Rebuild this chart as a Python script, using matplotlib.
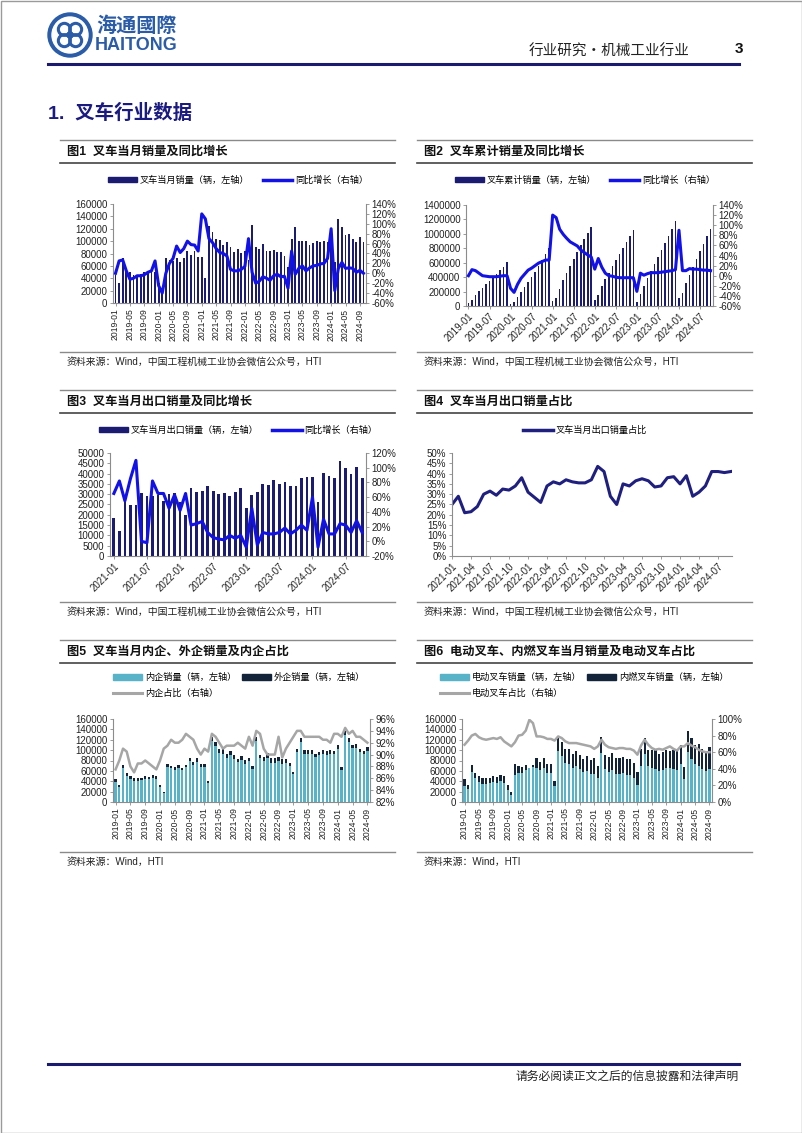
import numpy as np
import pandas as pd
import matplotlib
matplotlib.use('Agg')
import matplotlib.pyplot as plt
from matplotlib.patches import Circle, Patch, Rectangle
from matplotlib.lines import Line2D
from matplotlib.ticker import FuncFormatter

plt.rcParams['font.family'] = ['Liberation Sans', 'Noto Sans CJK SC', 'DejaVu Sans']

W, H = 802, 1133

########### data ###########
months_70 = pd.period_range('2019-01', periods=70, freq='M').strftime('%Y-%m').tolist()
months_69 = months_70[:69]
months_46 = pd.period_range('2021-01', periods=46, freq='M').strftime('%Y-%m').tolist()
months_45 = months_46[:45]

# fig1 monthly sales & yoy
sales_m = [45000, 33000, 72000, 56000, 50000, 46000, 46000, 47000, 50000, 49000, 53000, 50000,
           33000, 19000, 73000, 70000, 68000, 72000, 66000, 72000, 84000, 78000, 84000, 74000,
           74000, 41000, 125000, 115000, 103000, 102000, 93000, 98000, 91000, 83000, 88000, 81000,
           84000, 70000, 126000, 91000, 87000, 95000, 84000, 84000, 86000, 82000, 82000, 76000,
           58000, 103000, 123000, 100000, 100000, 100000, 93000, 97000, 100000, 98000, 100000, 99000,
           110000, 67000, 136000, 123000, 110000, 111000, 103000, 99000, 106000, 98000]
sales_yoy = [0, 25, 27, 5, -12, -10, -5, -5, -3, 2, 5, 25,
             -25, -40, 0, 20, 30, 55, 42, 50, 65, 58, 57, 45,
             120, 110, 70, 62, 50, 42, 40, 35, 8, 5, 5, 8,
             14, 70, 2, -20, -16, -7, -10, -14, -5, -2, -7, -6,
             -30, 45, -2, 10, 15, 5, 11, 15, 16, 19, 20, 30,
             90, -35, 10, 22, 10, 11, 10, 2, 6, 0]

# fig2 cumulative sales & yoy
sales_cum = [45000, 78000, 150000, 206000, 256000, 302000, 348000, 395000, 445000, 494000, 547000, 608000,
             33000, 52000, 125000, 195000, 263000, 335000, 401000, 473000, 557000, 635000, 719000, 800000,
             74000, 115000, 240000, 355000, 458000, 560000, 653000, 751000, 842000, 925000, 1013000, 1094000,
             84000, 154000, 280000, 371000, 458000, 553000, 637000, 721000, 807000, 889000, 971000, 1048000,
             58000, 161000, 284000, 384000, 484000, 584000, 677000, 774000, 874000, 972000, 1072000, 1174000,
             110000, 177000, 313000, 436000, 546000, 657000, 760000, 859000, 965000, 1063000]
cum_yoy = [0, 12, 10, 5, 0, -1, -2, -2, -2, -1, 0, 0,
           -25, -33, -17, -5, 3, 11, 15, 20, 25, 28, 31, 31,
           120, 115, 92, 82, 74, 67, 63, 59, 51, 46, 41, 37,
           13, 34, 17, 5, 0, -1, -3, -4, -4, -4, -4, -4,
           -31, 5, 1, 4, 6, 6, 6, 7, 8, 9, 10, 12,
           90, 10, 10, 14, 13, 13, 12, 11, 11, 10]

# fig3 monthly export & yoy
export_m = [18500, 12000, 26000, 24700, 24700, 30600, 29300, 29000, 29600, 26600, 30000, 30800,
            26000, 20000, 33000, 31000, 31500, 34000, 31500, 30000, 30500, 29000, 31000, 33000,
            23500, 29500, 31000, 35000, 34500, 37000, 35000, 36000, 34000, 34000, 38000, 38500,
            38500, 26000, 40500, 39000, 38000, 46000, 42500, 40000, 43000, 38000]
export_yoy = [65, 82, 55, 85, 110, 0, -2, 82, 65, 65, 45, 63,
              42, 65, 22, 24, 27, 12, 5, 3, 2, 8, 4, 8,
              -8, 45, -5, 12, 10, 10, 12, 18, 10, 15, 22, 15,
              60, -8, 30, 10, 10, 24, 22, 12, 28, 12]

# fig4 export share (%)
export_share = [25, 29, 21, 21.5, 24, 30, 31.5, 29.5, 32.5, 32, 34, 38,
                31, 28.5, 26, 34, 36, 35, 37, 36, 35.5, 35.5, 37, 43.5,
                41, 29, 25, 35, 34, 36.5, 37.5, 36.5, 33.5, 34, 38, 38.5,
                35, 39, 29, 31, 34, 41, 41, 40.5, 41]

# fig5 domestic / foreign brands
inner_sales = [39400, 29400, 65500, 50700, 44000, 40000, 40700, 41600, 44500, 43400, 46600, 43800,
               29400, 17300, 66800, 64800, 62600, 66200, 61100, 67300, 78100, 72200, 76400, 66600,
               67300, 37100, 116900, 107000, 94800, 92800, 85100, 89700, 83300, 76400, 80500, 73700,
               78100, 64100, 118400, 85100, 79200, 85500, 75600, 75600, 80000, 73400, 74600, 69900,
               53900, 96800, 115600, 93000, 93000, 93000, 86500, 90200, 92500, 90700, 92000, 92600,
               102900, 62300, 128500, 115000, 103400, 103200, 95800, 91600, 97500]
outer_sales = [5600, 3600, 6500, 5300, 6000, 6000, 5300, 5400, 5500, 5600, 6400, 6200,
               3600, 1700, 6200, 5200, 5400, 5800, 4900, 4700, 5900, 5800, 7600, 7400,
               6700, 3900, 8100, 8000, 8200, 9200, 7900, 8300, 7700, 6600, 7500, 7300,
               5900, 5900, 7600, 5900, 7800, 9500, 8400, 8400, 6000, 8600, 7400, 6100,
               4100, 6200, 7400, 7000, 7000, 7000, 6500, 6800, 7500, 7300, 8000, 6400,
               7100, 4700, 7500, 8000, 6600, 7800, 7200, 7400, 8500]
inner_share = [87.5, 89, 91, 90.5, 88, 87, 88.5, 88.5, 89, 88.5, 88, 87.5,
               89, 91, 91.5, 92.5, 92, 92, 92.5, 93.5, 93, 92.5, 91, 90,
               91, 90.5, 93.5, 93, 92, 91, 91.5, 91.5, 91.5, 92, 91.5, 91,
               93, 91.5, 94, 93.5, 91, 90, 90, 90, 93, 89.5, 91, 92,
               93, 94, 94, 93, 93, 93, 93, 93, 92.5, 92.5, 92, 93.5,
               93.5, 93, 94.5, 93.5, 94, 93, 93, 92.5, 92]

# fig6 electric / ICE
elec_sales = [31000, 24400, 57600, 45900, 39000, 35000, 34500, 35700, 38500, 37200, 41300, 36500,
              23100, 12700, 52600, 56000, 55100, 61900, 65300, 68400, 66400, 61600, 65500, 56200,
              56200, 30300, 98800, 88600, 75200, 72400, 66000, 69600, 63700, 57300, 59800, 54300,
              53800, 46900, 94500, 62800, 57400, 61800, 53800, 54600, 55900, 52500, 52500, 47100,
              33100, 70000, 92300, 69000, 65000, 63000, 59500, 61100, 65000, 65700, 64000, 61400,
              73700, 44900, 96600, 83600, 72600, 69900, 62800, 59400, 63600]
ice_sales = [14000, 8600, 14400, 10100, 11000, 11000, 11500, 11300, 11500, 11800, 11700, 13500,
             9900, 6300, 20400, 14000, 12900, 10100, 700, 3600, 17600, 16400, 18500, 17800,
             17800, 10700, 26200, 26400, 27800, 29600, 27000, 28400, 27300, 25700, 28200, 26700,
             30200, 23100, 31500, 28200, 29600, 33200, 30200, 29400, 30100, 29500, 29500, 28900,
             24900, 33000, 30700, 31000, 35000, 37000, 33500, 35900, 35000, 32300, 36000, 37600,
             36300, 22100, 39400, 39400, 37400, 41100, 40200, 39600, 42400]
elec_share = [69, 74, 80, 82, 78, 76, 75, 76, 77, 76, 78, 73,
              70, 67, 72, 80, 81, 86, 99, 95, 79, 79, 78, 76,
              76, 74, 79, 77, 73, 71, 71, 71, 70, 69, 68, 67,
              64, 67, 75, 69, 66, 65, 64, 65, 65, 64, 64, 62,
              57, 68, 75, 69, 65, 63, 64, 63, 65, 67, 64, 62,
              67, 67, 71, 68, 66, 63, 61, 60, 60]

########### colours ###########
NAVY = '#1b1b72'
BLUE = '#1212e6'
LINE4 = '#1f1f80'
TEAL = '#58b2c8'
DARK = '#13233a'
GRAY = '#a6a6a6'
AXC = '#8c8c8c'
LOGO = '#2a5ca8'

fig = plt.figure(figsize=(W / 100, H / 100), dpi=100)
page = fig.add_axes([0, 0, 1, 1])
page.set_xlim(0, W)
page.set_ylim(H, 0)
page.axis('off')


def box(l, t, r, b):
    return [l / W, 1 - b / H, (r - l) / W, (b - t) / H]


def fxy(x, y):
    return (x / W, 1 - y / H)


def style(ax, twin=None):
    ax.spines['top'].set_visible(False)
    ax.spines['right'].set_visible(False)
    for s in ['left', 'bottom']:
        ax.spines[s].set_color(AXC)
        ax.spines[s].set_linewidth(0.8)
    ax.tick_params(axis='y', labelsize=7, length=2.5, width=0.6, color=AXC, pad=1.5, labelcolor='#222')
    ax.tick_params(axis='x', labelsize=6.2, length=2.5, width=0.6, color=AXC, pad=1.5, labelcolor='#222')
    ax.yaxis.set_major_formatter(FuncFormatter(lambda v, p: '{:.0f}'.format(v)))
    if twin is not None:
        for s in ['top', 'left', 'bottom']:
            twin.spines[s].set_visible(False)
        twin.spines['right'].set_color(AXC)
        twin.spines['right'].set_linewidth(0.8)
        twin.tick_params(axis='y', labelsize=7, length=2.5, width=0.6, color=AXC, pad=1.5, labelcolor='#222')


def pct(ax):
    ax.yaxis.set_major_formatter(FuncFormatter(lambda v, p: '{:.0f}%'.format(v)))


def panel(x0, x1, top, title, source):
    page.plot([x0, x1], [top, top], color='#8a8a8a', lw=1.0)
    page.text(x0 + 7, top + 12, title, fontsize=8.8, fontweight='bold', va='center', ha='left', color='#111')
    page.plot([x0, x1], [top + 23, top + 23], color='#444', lw=1.2)
    page.plot([x0, x1], [top + 212, top + 212], color='#8a8a8a', lw=1.0)
    page.text(x0 + 7, top + 222, source, fontsize=7.1, va='center', ha='left', color='#222')


def legend(handles, labels, x, y, ncol=2, loc='center', colsp=1.5):
    fig.legend(handles, labels, loc=loc, bbox_to_anchor=fxy(x, y), ncol=ncol, frameon=False,
               fontsize=6.6, handlelength=3.2, handleheight=0.55, columnspacing=colsp,
               handletextpad=0.3, borderpad=0, borderaxespad=0, labelspacing=0.7)


########### page header / footer ###########
page.add_patch(Rectangle((0.5, 0.5), W - 1, H - 1, fill=False, ec='#9a9a9a', lw=1))
page.add_patch(Circle((70, 35), 22, color=LOGO))
page.add_patch(Circle((70, 35), 18, color='white'))
for ang in [45, 135, 225, 315]:
    cx = 70 + 8 * np.cos(np.radians(ang))
    cy = 35 + 8 * np.sin(np.radians(ang))
    page.add_patch(Circle((cx, cy), 6, fill=False, ec=LOGO, lw=2.2))
page.add_patch(Circle((70, 35), 3, color=LOGO))
page.text(96, 26, '海通國際', fontsize=14.5, color=LOGO, fontweight='bold', va='center', ha='left')
page.text(95, 46, 'HAITONG', fontsize=13, color=LOGO, fontweight='bold', va='center', ha='left')
page.text(690, 52, '行业研究・机械工业行业', fontsize=10.5, va='center', ha='right', color='#222')
page.text(735, 49, '3', fontsize=11, fontweight='bold', va='center', ha='left', color='#111')
page.plot([48, 739], [64, 64], color='#1a1a6e', lw=2.2)
page.text(48, 113, '1.  叉车行业数据', fontsize=14, fontweight='bold', va='center', ha='left', color='#1a1a80')
page.plot([48, 739], [1064, 1064], color='#1a1a6e', lw=2.2)
page.text(739, 1077, '请务必阅读正文之后的信息披露和法律声明', fontsize=8.5, va='center', ha='right', color='#222')

SRC = '资料来源：Wind，中国工程机械工业协会微信公众号，HTI'
panel(60, 395, 140, '图1  叉车当月销量及同比增长', SRC)
panel(417, 752, 140, '图2  叉车累计销量及同比增长', SRC)
panel(60, 395, 390, '图3  叉车当月出口销量及同比增长', SRC)
panel(417, 752, 390, '图4  叉车当月出口销量占比', SRC)
panel(60, 395, 640, '图5  叉车当月内企、外企销量及内企占比', '资料来源：Wind，HTI')
panel(417, 752, 640, '图6  电动叉车、内燃叉车当月销量及电动叉车占比', '资料来源：Wind，HTI')

########### fig1 ###########
x = np.arange(len(sales_m))
ax = fig.add_axes(box(113, 204, 366, 303))
ax.bar(x, sales_m, width=0.5, color=NAVY)
ax.set_ylim(0, 160000)
ax.set_yticks(np.arange(0, 160001, 20000))
ax.set_xlim(-0.7, len(x) - 0.3)
ax.set_xticks(x[::4])
ax.set_xticklabels(months_70[::4], rotation=90)
tw = ax.twinx()
tw.plot(x, sales_yoy, color=BLUE, lw=2.2)
tw.set_ylim(-60, 140)
tw.set_yticks(np.arange(-60, 141, 20))
pct(tw)
style(ax, tw)
legend([Patch(color=NAVY), Line2D([], [], color=BLUE, lw=2.5)],
       ['叉车当月销量（辆，左轴）', '同比增长（右轴）'], 238, 180)

########### fig2 ###########
x = np.arange(len(sales_cum))
ax = fig.add_axes(box(466, 205, 713, 306))
ax.bar(x, sales_cum, width=0.45, color=NAVY)
ax.set_ylim(0, 1400000)
ax.set_yticks(np.arange(0, 1400001, 200000))
ax.set_xlim(-0.7, len(x) - 0.3)
ax.set_xticks(x[::6])
ax.set_xticklabels(months_70[::6], rotation=45, ha='right', rotation_mode='anchor')
tw = ax.twinx()
tw.plot(x, cum_yoy, color=BLUE, lw=2.2)
tw.set_ylim(-60, 140)
tw.set_yticks(np.arange(-60, 141, 20))
pct(tw)
style(ax, tw)
ax.tick_params(axis='x', labelsize=6.9)
legend([Patch(color=NAVY), Line2D([], [], color=BLUE, lw=2.5)],
       ['叉车累计销量（辆，左轴）', '同比增长（右轴）'], 585, 180)

########### fig3 ###########
x = np.arange(len(export_m))
ax = fig.add_axes(box(110, 453, 366, 556))
ax.bar(x, export_m, width=0.5, color=NAVY)
ax.set_ylim(0, 50000)
ax.set_yticks(np.arange(0, 50001, 5000))
ax.set_xlim(-0.7, len(x) - 0.3)
ax.set_xticks(x[::6])
ax.set_xticklabels(months_46[::6], rotation=45, ha='right', rotation_mode='anchor')
tw = ax.twinx()
tw.plot(x, export_yoy, color=BLUE, lw=2.2)
tw.set_ylim(-20, 120)
tw.set_yticks(np.arange(-20, 121, 20))
pct(tw)
style(ax, tw)
ax.tick_params(axis='x', labelsize=6.9)
legend([Patch(color=NAVY), Line2D([], [], color=BLUE, lw=2.5)],
       ['叉车当月出口销量（辆，左轴）', '同比增长（右轴）'], 238, 430)

########### fig4 ###########
x = np.arange(len(export_share))
ax = fig.add_axes(box(452, 453, 732, 556))
ax.plot(x, export_share, color=LINE4, lw=2.2)
ax.set_ylim(0, 50)
ax.set_yticks(np.arange(0, 51, 5))
ax.set_xlim(0, len(x) - 0.8)
ax.set_xticks(x[::3])
ax.set_xticklabels(months_45[::3], rotation=45, ha='right', rotation_mode='anchor')
style(ax)
pct(ax)
ax.tick_params(axis='x', labelsize=6.9)
legend([Line2D([], [], color=LINE4, lw=2.5)], ['叉车当月出口销量占比'], 585, 430, ncol=1)

########### fig5 ###########
x = np.arange(len(inner_sales))
ax = fig.add_axes(box(113, 719, 370, 802))
ax.bar(x, inner_sales, width=0.6, color=TEAL)
ax.bar(x, outer_sales, bottom=inner_sales, width=0.6, color=DARK)
ax.set_ylim(0, 160000)
ax.set_yticks(np.arange(0, 160001, 20000))
ax.set_xlim(-0.7, len(x) - 0.3)
ax.set_xticks(x[::4])
ax.set_xticklabels(months_69[::4], rotation=90)
tw = ax.twinx()
tw.plot(x, inner_share, color=GRAY, lw=1.8)
tw.set_ylim(82, 96)
tw.set_yticks(np.arange(82, 96.1, 2))
pct(tw)
style(ax, tw)
legend([Patch(color=TEAL), Line2D([], [], color=GRAY, lw=2.2), Patch(color=DARK)],
       ['内企销量（辆，左轴）', '内企占比（右轴）', '外企销量（辆，左轴）'],
       113, 673, loc='upper left', colsp=0.6)

########### fig6 ###########
x = np.arange(len(elec_sales))
ax = fig.add_axes(box(462, 719, 712, 802))
ax.bar(x, elec_sales, width=0.6, color=TEAL)
ax.bar(x, ice_sales, bottom=elec_sales, width=0.6, color=DARK)
ax.set_ylim(0, 160000)
ax.set_yticks(np.arange(0, 160001, 20000))
ax.set_xlim(-0.7, len(x) - 0.3)
ax.set_xticks(x[::4])
ax.set_xticklabels(months_69[::4], rotation=90)
tw = ax.twinx()
tw.plot(x, elec_share, color=GRAY, lw=1.8)
tw.set_ylim(0, 100)
tw.set_yticks(np.arange(0, 101, 20))
pct(tw)
style(ax, tw)
legend([Patch(color=TEAL), Line2D([], [], color=GRAY, lw=2.2), Patch(color=DARK)],
       ['电动叉车销量（辆，左轴）', '电动叉车占比（右轴）', '内燃叉车销量（辆，左轴）'],
       440, 673, loc='upper left', colsp=0.6)

fig.savefig('out.png', dpi=100)
